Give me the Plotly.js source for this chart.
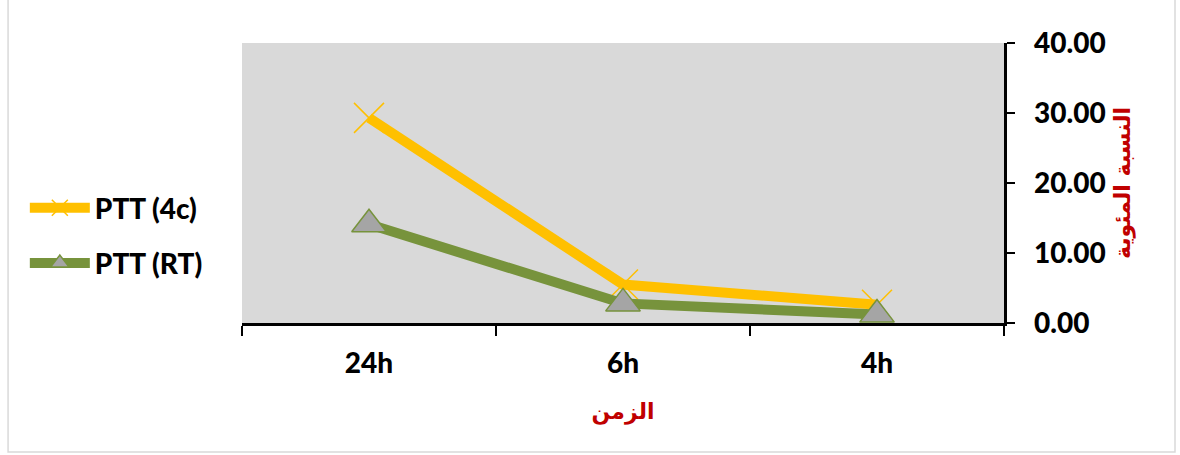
<!DOCTYPE html>
<html>
<head>
<meta charset="utf-8">
<script src="https://cdn.plot.ly/plotly-3.0.1.min.js"></script>
<style>html,body{margin:0;padding:0;background:#fff;}#chart{width:1180px;height:455px;}</style>
</head>
<body>
<div id="chart"></div>
<script>
var categories = ["24h", "6h", "4h"];
var ptt4c = [29.3, 5.5, 2.6];
var pttRT = [14.1, 2.8, 1.2];
var seriesNames = ["PTT (4c)", "PTT (RT)"];
var xTitle = "الزمن";
var yTitle = "النسبة المئوية";

var F = "Lato, 'Liberation Sans', 'DejaVu Sans', sans-serif";

var traces = [
  {
    x: categories, y: ptt4c, name: seriesNames[0], type: "scatter", mode: "lines+markers",
    line: {color: "#FFC000", width: 10},
    marker: {symbol: "x-thin", size: 30, color: "#FFC000", line: {color: "#FFC000", width: 1.5}},
    legendgroup: "a"
  },
  {
    x: categories, y: pttRT, name: seriesNames[1], type: "scatter", mode: "lines+markers",
    line: {color: "#77933C", width: 10},
    marker: {symbol: "triangle-up", size: 30, color: "#A5A5A5", line: {color: "#77933C", width: 1.5}},
    legendgroup: "b"
  }
];

var layout = {
  width: 1180, height: 455,
  margin: {l: 242, r: 176, t: 43, b: 132},
  paper_bgcolor: "#ffffff",
  plot_bgcolor: "#D9D9D9",
  font: {family: F, color: "#000"},
  showlegend: true,
  legend: {
    x: -0.285, y: 0.5, xanchor: "left", yanchor: "top",
    font: {family: F, size: 28, color: "#000", weight: 900},
    traceorder: "grouped", tracegroupgap: 16,
    itemwidth: 60, bgcolor: "rgba(0,0,0,0)"
  },
  xaxis: {
    type: "category", range: [-0.5, 2.5],
    showgrid: false, zeroline: false,
    showline: true, linecolor: "#000", linewidth: 2.5,
    ticks: "outside", ticklen: 10, tickwidth: 2, tickcolor: "#000",
    tickson: "boundaries", ticklabelstandoff: 14,
    tickfont: {family: F, size: 28, color: "#000", weight: 900},
    title: {text: xTitle, font: {family: "'DejaVu Sans', sans-serif", size: 22, color: "#C00000", weight: "bold"}, standoff: 26}
  },
  yaxis: {
    side: "right", range: [0, 40], dtick: 10, tickformat: ".2f",
    showgrid: false, zeroline: false,
    showline: true, linecolor: "#000", linewidth: 2.5,
    ticks: "outside", ticklen: 8, tickwidth: 2, tickcolor: "#000",
    tickprefix: "\u2002",
    tickfont: {family: F, size: 28, color: "#000", weight: 900},
    title: {text: yTitle, font: {family: "'DejaVu Sans', sans-serif", size: 22, color: "#C00000", weight: "bold"}, standoff: 10}
  },
  shapes: [
    {type: "rect", xref: "paper", yref: "paper", x0: -0.307, x1: 1.2244, y0: -0.4607, y1: 1.16,
     line: {color: "#D9D9D9", width: 1.5}, fillcolor: "rgba(0,0,0,0)", layer: "below"}
  ]
};

Plotly.newPlot("chart", traces, layout, {displayModeBar: false, staticPlot: true});
</script>
</body>
</html>
